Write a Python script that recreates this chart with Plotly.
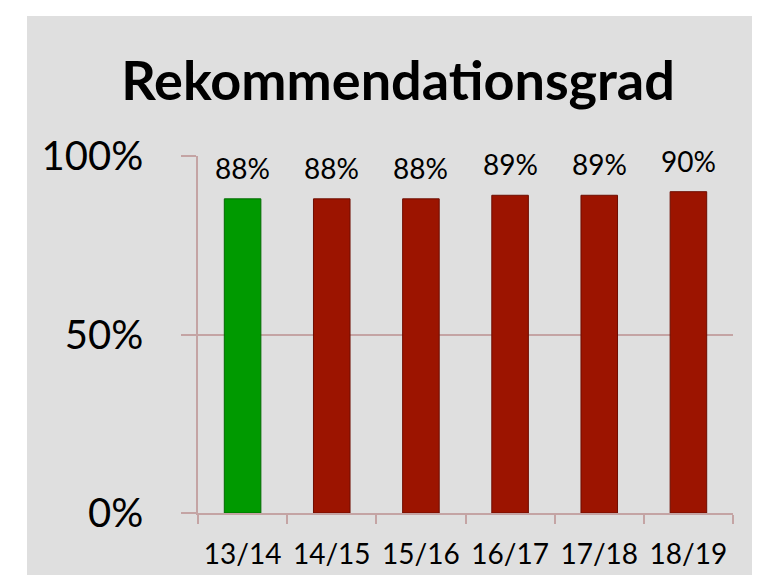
import plotly.graph_objects as go

# data
seasons = ["13/14", "14/15", "15/16", "16/17", "17/18", "18/19"]
rate = [0.88, 0.88, 0.88, 0.89, 0.89, 0.90]
bar_colors = ["#009a00", "#9c1400", "#9c1400", "#9c1400", "#9c1400", "#9c1400"]
edge_colors = ["#006b00", "#6e0d00", "#6e0d00", "#6e0d00", "#6e0d00", "#6e0d00"]
y_ticks = [0, 0.5, 1.0]
y_tick_text = ["0%", "50%", "100%"]

FONT = "Lato, 'Open Sans', sans-serif"
AXIS = "#c4a4a4"

# plot area in pixels (for the outer gray panel)
L, R, T, B = 190, 35, 148, 70
W, H = 760, 575
pw, ph = W - L - R, H - T - B

fig = go.Figure()
fig.add_trace(go.Bar(
    x=seasons, y=rate, width=0.41,
    marker=dict(color=bar_colors, line=dict(color=edge_colors, width=1)),
    hoverinfo="skip",
))

# value labels above each bar
for s, v in zip(seasons, rate):
    fig.add_annotation(x=s, y=v, text=f"{round(v * 100)}%", showarrow=False,
                       yanchor="bottom", yshift=12,
                       font=dict(family=FONT, size=28, color="#000"))

fig.update_layout(
    width=W, height=H,
    margin=dict(l=L, r=R, t=T, b=B, autoexpand=False),
    paper_bgcolor="white", plot_bgcolor="white",
    showlegend=False,
    font=dict(family=FONT, color="#000"),
    title=dict(text="<b>Rekommendationsgrad</b>", x=390 / W, xanchor="center",
               y=1 - 73 / H, yanchor="middle", xref="container", yref="container",
               font=dict(family=FONT, size=54, color="#000")),
    shapes=[dict(type="rect", xref="paper", yref="paper", layer="below",
                 x0=(19 - L) / pw, x1=(W + 5 - L) / pw,
                 y0=-(H + 5 - (T + ph)) / ph, y1=(T + ph - 8) / ph,
                 fillcolor="#dfdfdf", line=dict(width=0))],
)

fig.update_xaxes(
    type="category", showgrid=False, showline=True, linecolor=AXIS, linewidth=1.5,
    ticks="outside", tickson="boundaries", ticklen=9, tickcolor=AXIS, tickwidth=1.5,
    tickfont=dict(family=FONT, size=28), ticklabelstandoff=16, automargin=False,
)
fig.update_yaxes(
    range=[0, 1.0], tickvals=y_ticks, ticktext=y_tick_text,
    showgrid=True, gridcolor=AXIS, gridwidth=1.5, zeroline=False,
    showline=True, linecolor=AXIS, linewidth=1.5,
    ticks="outside", ticklen=15, tickcolor=AXIS, tickwidth=1.5,
    tickfont=dict(family=FONT, size=40), ticklabelstandoff=30, automargin=False,
)

fig.write_html("out.html")
